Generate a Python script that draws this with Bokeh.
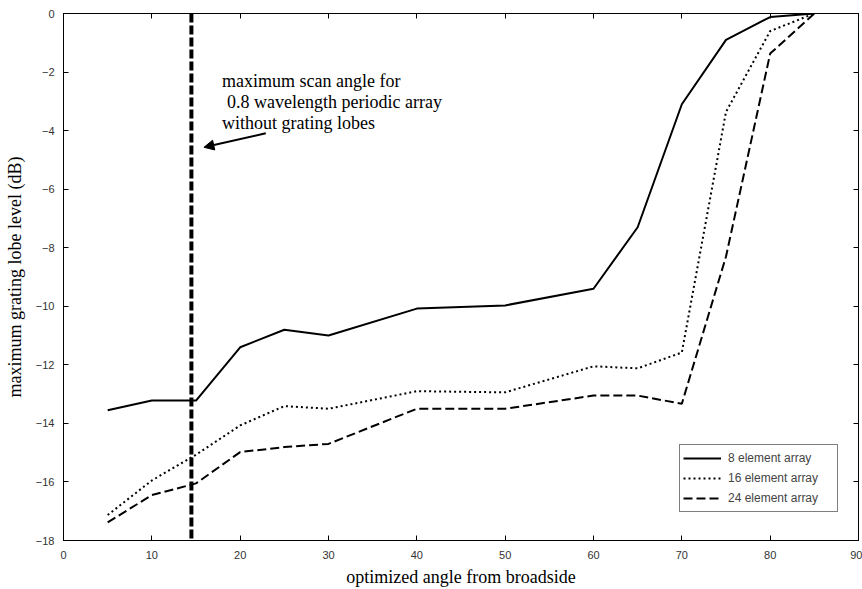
from bokeh.plotting import figure
from bokeh.models import (LinearAxis, SingleIntervalTicker, Span, Label, Arrow,
                          NormalHead, Legend, LegendItem, Range1d, CustomJSTickFormatter)
from bokeh.embed import file_html
from bokeh.resources import INLINE

# ---- data ----
angles = [5, 10, 15, 20, 25, 30, 40, 50, 60, 65, 70, 75, 80, 85]
gl_8 = [-13.55, -13.22, -13.22, -11.4, -10.8, -11.0, -10.08, -9.97, -9.4, -7.3, -3.1, -0.9, -0.12, 0.0]
gl_16 = [-17.13, -15.95, -15.07, -14.07, -13.41, -13.5, -12.9, -12.94, -12.05, -12.12, -11.58, -3.36, -0.6, 0.0]
gl_24 = [-17.38, -16.45, -16.05, -14.98, -14.81, -14.7, -13.5, -13.5, -13.05, -13.05, -13.33, -8.3, -1.37, 0.0]
series_labels = ["8 element array", "16 element array", "24 element array"]
scan_limit = 14.48
note_lines = ["maximum scan angle for", " 0.8 wavelength periodic array", "without grating lobes"]
note_x = 17.95
note_y = [-2.3, -3.02, -3.73]
arrow_from = (22.9, -4.09)
arrow_to = (15.9, -4.57)

serif = "Liberation Serif"
sans = "Liberation Sans"

p = figure(width=862, height=589, output_backend="svg", toolbar_location=None,
           x_range=Range1d(0, 90), y_range=Range1d(-18, 0),
           x_axis_label="optimized angle from broadside",
           y_axis_label="maximum grating lobe level (dB)",
           min_border_left=63, min_border_right=0, min_border_top=13, min_border_bottom=47)
p.outline_line_color = "black"
p.outline_line_width = 1
p.xgrid.visible = False
p.ygrid.visible = False
p.background_fill_color = "white"
p.border_fill_color = "white"

for ax in p.xaxis:
    ax.ticker = SingleIntervalTicker(interval=10)
for ax in p.yaxis:
    ax.ticker = SingleIntervalTicker(interval=2)

for ax in list(p.xaxis) + list(p.yaxis):
    ax.major_tick_in = 5
    ax.major_tick_out = 0
    ax.minor_tick_line_color = None
    ax.axis_line_color = "black"
    ax.major_tick_line_color = "black"
    ax.major_label_text_font = sans
    ax.major_label_text_font_size = "11px"
    ax.major_label_text_color = "#333333"
    ax.axis_label_text_font = serif
    ax.axis_label_text_font_style = "normal"
    ax.axis_label_text_font_size = "18px"
    ax.axis_label_text_color = "#000000"

p.xaxis.major_label_standoff = 6
p.yaxis.major_label_standoff = 5
p.xaxis.axis_label_standoff = 5
p.yaxis.axis_label_standoff = 8

# top and right axes: ticks only
blank = "return ''"
top = LinearAxis(ticker=SingleIntervalTicker(interval=10), major_tick_in=5, major_tick_out=0,
                 minor_tick_line_color=None, formatter=CustomJSTickFormatter(code=blank),
                 major_label_standoff=0)
right = LinearAxis(ticker=SingleIntervalTicker(interval=2), major_tick_in=5, major_tick_out=0,
                   minor_tick_line_color=None, formatter=CustomJSTickFormatter(code=blank),
                   major_label_standoff=0)
p.add_layout(top, "above")
p.add_layout(right, "right")

# curves
r8 = p.line(angles, gl_8, line_color="black", line_width=2)
r16 = p.line(angles, gl_16, line_color="black", line_width=2, line_dash="2 3")
r24 = p.line(angles, gl_24, line_color="black", line_width=2, line_dash="9 4")

# scan-limit line
p.add_layout(Span(location=scan_limit, dimension="height", line_color="black",
                  line_width=4, line_dash="9 3"))

# annotation
for i, (t, yy) in enumerate(zip(note_lines, note_y)):
    p.add_layout(Label(x=note_x, y=yy, text=t, text_font=serif, text_font_size="18px",
                       text_color="black", text_baseline="middle",
                       x_offset=5 if t.startswith(" ") else 0))
p.add_layout(Arrow(x_start=arrow_from[0], y_start=arrow_from[1], x_end=arrow_to[0], y_end=arrow_to[1],
                   line_color="black", line_width=2,
                   end=NormalHead(size=10, fill_color="black", line_color="black")))

legend = Legend(items=[LegendItem(label=series_labels[0], renderers=[r8]),
                       LegendItem(label=series_labels[1], renderers=[r16]),
                       LegendItem(label=series_labels[2], renderers=[r24])],
                location=(616, 28))
legend.border_line_color = "black"
legend.border_line_width = 1
legend.background_fill_alpha = 1
legend.padding = 3
legend.spacing = 0
legend.margin = 0
legend.glyph_width = 38
legend.glyph_height = 20
legend.label_height = 20
legend.label_standoff = 7
legend.label_width = 106
legend.label_text_font = sans
legend.label_text_font_size = "12px"
p.add_layout(legend)

open("out.html", "w").write(file_html(p, INLINE))
